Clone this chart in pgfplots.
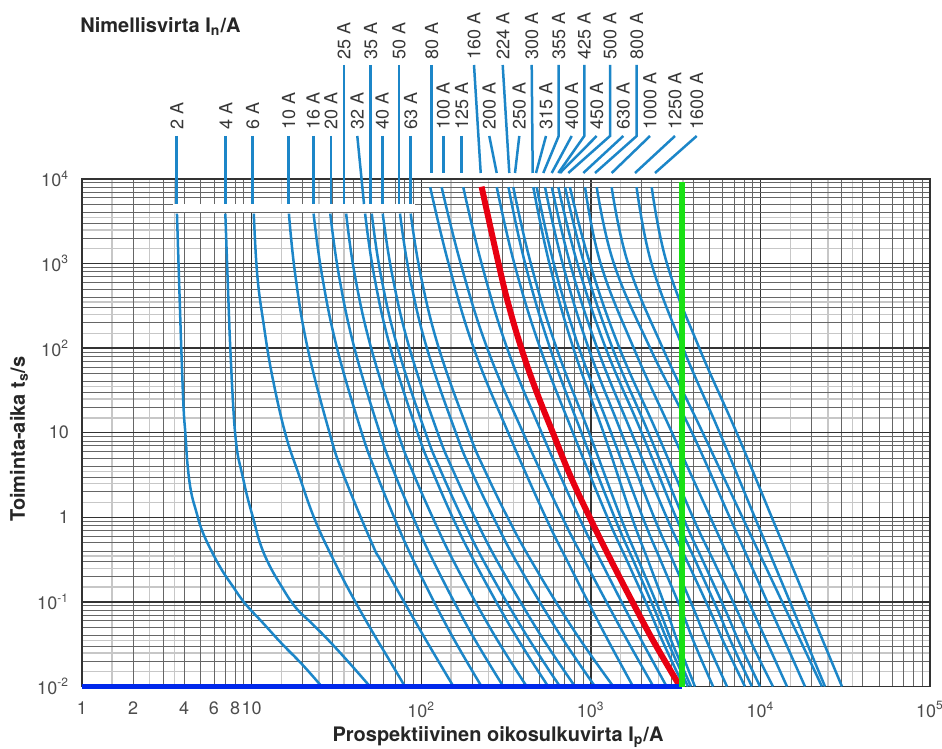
\documentclass[border=0pt]{standalone}
\usepackage{fontspec}
\setmainfont{TeX Gyre Heros}
\usepackage{pgfplots}
\pgfplotsset{compat=1.18}
\definecolor{fuse}{RGB}{28,134,200}
\definecolor{hred}{RGB}{232,0,18}
\definecolor{hgreen}{RGB}{25,225,20}
\definecolor{hblue}{RGB}{0,40,235}
\definecolor{lbl}{RGB}{55,55,55}
\begin{document}
\begin{tikzpicture}
\useasboundingbox (-41pt,-31.25pt) rectangle (430pt,343.25pt);
% light extra grid lines
\begin{axis}[at={(0pt,0pt)}, anchor=south west, scale only axis,
  width=424pt, height=253.75pt, xmode=log, ymode=log,
  xmin=1, xmax=100000, ymin=0.01, ymax=10000,
  xtick={1.5,2.5,3.5,15,25,35,150,250,350,1500,2500,3500,15000,25000,35000},
  ytick={0.015,0.025,0.035,0.15,0.25,0.35,1.5,2.5,3.5,15,25,35,150,250,350,1500,2500,3500},
  xticklabels={}, yticklabels={}, ticklabel style={opacity=0}, grid=major,
  major grid style={black!22, line width=0.7pt},
  major tick length=0pt, axis line style={draw=none}]
\addplot[draw=none] coordinates {(1,1)};
\end{axis}
% main axis
\begin{axis}[at={(0pt,0pt)}, anchor=south west, scale only axis,
  width=424pt, height=253.75pt, xmode=log, ymode=log,
  xmin=1, xmax=100000, ymin=0.01, ymax=10000, clip=false,
  xtick={1,10,100,1000,10000,100000},
  xticklabels={1,10,10\textsuperscript{2},10\textsuperscript{3},10\textsuperscript{4},10\textsuperscript{5}},
  extra x ticks={2,4,6,8}, extra x tick labels={2,4,6,8},
  extra x tick style={xmajorgrids=false},
  minor xtick={2,3,4,5,6,7,8,9,20,30,40,50,60,70,80,90,200,300,400,500,600,700,800,900,2000,3000,4000,5000,6000,7000,8000,9000,20000,30000,40000,50000,60000,70000,80000,90000},
  ytick={0.01,0.1,1,10,100,1000,10000},
  yticklabels={10\textsuperscript{-2},10\textsuperscript{-1},1,10,10\textsuperscript{2},10\textsuperscript{3},10\textsuperscript{4}},
  minor ytick={0.02,0.03,0.04,0.05,0.06,0.07,0.08,0.09,0.2,0.3,0.4,0.5,0.6,0.7,0.8,0.9,2,3,4,5,6,7,8,9,20,30,40,50,60,70,80,90,200,300,400,500,600,700,800,900,2000,3000,4000,5000,6000,7000,8000,9000},
  grid=both,
  major grid style={black!80, line width=0.7pt},
  minor grid style={black!60, line width=0.4pt},
  major tick length=0pt, minor tick length=0pt,
  axis line style={black!80, line width=0.8pt},
  ticklabel style={font=\fontsize{9}{10}\selectfont, text=black!70},
  xticklabel style={yshift=-4pt},
  yticklabel style={xshift=-3pt},
  fusec/.style={fuse, line width=1.25pt, smooth, tension=0.7}]
\fill[white] (axis cs:3.44,4018) rectangle (axis cs:91.9,5060);
% 2 A
\addplot[fusec] coordinates {(3.63,3900) (3.75,500) (3.85,100) (3.97,20) (4.07,9.8) (4.2,4) (4.4,2) (4.7,1.2) (5.1,0.70) (5.8,0.40) (6.7,0.236) (7.8,0.15) (9.18,0.095) (11.8,0.055) (15.1,0.032) (20,0.018) (25.9,0.01)};
% 4 A
\addplot[fusec] coordinates {(7.0,3900) (7.33,295) (7.49,99) (7.75,25) (8.0,9.8) (8.35,5) (8.78,3.29) (9.4,1.8) (10.3,0.92) (11.2,0.5) (12.6,0.283) (14.8,0.16) (18.1,0.087) (22.8,0.055) (28.5,0.035) (37.7,0.019) (49.9,0.01)};
% 6 A
\addplot[fusec] coordinates {(10.3,3900) (10.8,731) (11.8,187) (13.2,48) (15.8,9.8) (18.9,3.29) (23.7,0.92) (31.2,0.283) (39.4,0.115) (51,0.046) (64,0.0215) (80.2,0.01)};
% 10 A
\addplot[fusec] coordinates {(16.6,3900) (18.1,731) (21.4,100) (28.8,10) (34.6,3.29) (51.3,0.49) (59.2,0.283) (98.9,0.046) (155,0.01)};
% 16 A
\addplot[fusec] coordinates {(23.2,3900) (26.0,731) (31.9,100) (44.6,10) (53.5,3.6) (70.5,0.92) (92.0,0.283) (146,0.046) (227,0.01)};
% 20 A
\addplot[fusec] coordinates {(29.1,3900) (32.7,731) (40.4,100) (57.0,10) (68.5,3.6) (91.2,0.92) (120,0.283) (193,0.046) (305,0.01)};
% 25 A
\addplot[fusec] coordinates {(36.1,3900) (40.6,731) (50.7,100) (72.8,10) (88.3,3.6) (119,0.92) (158,0.283) (260,0.046) (419,0.01)};
% 32 A
\addplot[fusec] coordinates {(46.7,3900) (52.7,731) (65.9,100) (95.1,10) (116,3.6) (156,0.92) (209,0.283) (346,0.046) (561,0.01)};
% 35 A
\addplot[fusec] coordinates {(51.1,3900) (57.8,731) (72.8,100) (106,10) (130,3.6) (177,0.92) (238,0.283) (401,0.046) (658,0.01)};
% 40 A
\addplot[fusec] coordinates {(59.3,3900) (67.5,731) (85.3,100) (125,10) (154,3.6) (211,0.92) (286,0.283) (486,0.046) (807,0.01)};
% 50 A
\addplot[fusec] coordinates {(75.0,3900) (85.3,731) (108,100) (160,10) (197,3.6) (272,0.92) (370,0.283) (634,0.046) (1059,0.01)};
% 63 A
\addplot[fusec] coordinates {(86.7,3900) (99.3,731) (127,100) (191,10) (237,3.6) (330,0.92) (456,0.283) (796,0.046) (1358,0.01)};
% 80 A
\addplot[fusec] coordinates {(113,8000) (145,1000) (204,100) (326,10) (542,1) (741,0.282) (1023,0.0794) (1300,0.0316) (1774,0.01)};
% 100 A
\addplot[fusec] coordinates {(132,8000) (171,1000) (245,100) (399,10) (679,1) (940,0.282) (1315,0.0794) (1690,0.0316) (2339,0.01)};
% 125 A
\addplot[fusec] coordinates {(177,8000) (227,1000) (321,100) (513,10) (853,1) (1167,0.282) (1611,0.0794) (2046,0.0316) (2800,0.01)};
% 200 A
\addplot[fusec] coordinates {(279,8000) (354,1000) (503,100) (785,10) (1253,1) (1667,0.282) (2218,0.0794) (2698,0.0316) (3540,0.01)};
% 224 A
\addplot[fusec] coordinates {(327,8000) (410,1000) (575,100) (881,10) (1380,1) (1816,0.282) (2388,0.0794) (2884,0.0316) (3741,0.01)};
% 250 A
\addplot[fusec] coordinates {(349,8000) (443,1000) (628,100) (977,10) (1500,1) (1950,0.282) (2541,0.0794) (3041,0.0316) (3899,0.01)};
% 300 A
\addplot[fusec] coordinates {(458,8000) (570,1000) (789,100) (1189,10) (1746,1) (2213,0.282) (2800,0.0794) (3289,0.0316) (4111,0.01)};
% 315 A
\addplot[fusec] coordinates {(480,8000) (605,1000) (853,100) (1318,10) (2023,1) (2630,0.282) (3428,0.0794) (4102,0.0316) (5260,0.01)};
% 355 A
\addplot[fusec] coordinates {(537,8000) (682,1000) (970,100) (1514,10) (2360,1) (3105,0.282) (4074,0.0794) (4909,0.0316) (6353,0.01)};
% 400 A
\addplot[fusec] coordinates {(589,8000) (755,1000) (1091,100) (1738,10) (2800,1) (3758,0.282) (5035,0.0794) (6152,0.0316) (8110,0.01)};
% 425 A
\addplot[fusec] coordinates {(643,8000) (834,1000) (1225,100) (1995,10) (3177,1) (4217,0.282) (5610,0.0794) (6808,0.0316) (8913,0.01)};
% 450 A
\addplot[fusec] coordinates {(705,8000) (914,1000) (1343,100) (2188,10) (3499,1) (4667,0.282) (6223,0.0794) (7586,0.0316) (9954,0.01)};
% 500 A
\addplot[fusec] coordinates {(753,8000) (989,1000) (1476,100) (2455,10) (4000,1) (5395,0.282) (7278,0.0794) (8933,0.0316) (11860,0.01)};
% 630 A
\addplot[fusec] coordinates {(925,8000) (1143,1000) (1791,100) (3013,10) (5070,1) (6745,0.282) (8995,0.0794) (11070,0.0316) (14350,0.01)};
% 800 A
\addplot[fusec] coordinates {(1084,8000) (1368,1000) (2239,100) (3954,10) (6592,1) (8730,0.282) (11560,0.0794) (14190,0.0316) (18320,0.01)};
% 1000 A
\addplot[fusec] coordinates {(1327,8000) (1660,1000) (2655,100) (4571,10) (7834,1) (10540,0.282) (14190,0.0794) (17620,0.0316) (23070,0.01)};
% 1250 A
\addplot[fusec] coordinates {(1862,8000) (2280,1000) (3499,100) (5754,10) (9268,1) (12050,0.282) (15670,0.0794) (18920,0.0316) (24040,0.01)};
% 1600 A
\addplot[fusec] coordinates {(2286,8000) (2812,1000) (4365,100) (7244,10) (11670,1) (15170,0.282) (19720,0.0794) (23820,0.0316) (30270,0.01)};
% 160 A (highlighted)
\addplot[hred, line width=3pt, smooth, tension=0.7] coordinates {(227,8110) (287,960) (329,314) (390,99) (475,31.8) (600,9.8) (760,3.05) (1005,0.92) (1346,0.283) (1872,0.079) (2388,0.032) (3357,0.01)};
% horizontal 0.01 s line
\addplot[hblue, line width=2.6pt] coordinates {(1,0.01) (3450,0.01)};
% vertical current line
\addplot[hgreen, line width=2.6pt] coordinates {(3450,0.0098) (3450,9300)};
\end{axis}
% annotations in pixel-like coordinates
\begin{scope}[shift={(-41pt,343.25pt)}, x=0.5pt, y=-0.5pt]
\begin{scope}[fuse, line width=1.25pt]
\draw (176.7,136)--(176.7,204);
\draw (225.7,136)--(225.7,204);
\draw (252.7,136)--(252.7,204);
\draw (288.7,136)--(288.7,204);
\draw (313.3,136)--(313.3,204);
\draw (331,136)--(331,204);
\draw (357.3,136)--(364,204);
\draw (382.3,136)--(382.3,204);
\draw (410.7,136)--(410.7,204);
\draw (443.3,136)--(443.3,173);
\draw (461.7,136)--(461.7,173);
\draw (489.3,136)--(496.7,173);
\draw (519.3,136)--(515,173);
\draw (546,136)--(536,173);
\draw (571.7,136)--(551.7,173);
\draw (596.7,136)--(560,173);
\draw (623.3,136)--(583.3,173);
\draw (650,136)--(611.7,173);
\draw (675,136)--(635,173);
\draw (696.7,136)--(655,173);
\draw (344,65)--(344,204);
\draw (370.7,65)--(370.7,204);
\draw (399,65)--(399,204);
\draw (431.7,65)--(431.7,173);
\draw (474,65)--(480.7,173);
\draw (502.7,65)--(509.3,173);
\draw (531.7,65)--(532.7,173);
\draw (558.7,65)--(558.7,136)--(543.3,173);
\draw (584.3,65)--(584.3,136)--(558.3,173);
\draw (610,65)--(610,136)--(568.3,173);
\draw (636.7,65)--(636.7,136)--(595,173);
\end{scope}
\begin{scope}[every node/.style={rotate=90, anchor=west, inner sep=0pt, text=lbl, font=\fontsize{9}{10}\selectfont}]
\node at (176.7,130) {2 A};
\node at (225.7,130) {4 A};
\node at (252.7,130) {6 A};
\node at (288.7,130) {10 A};
\node at (313.3,130) {16 A};
\node at (331,130) {20 A};
\node at (357.3,130) {32 A};
\node at (382.3,130) {40 A};
\node at (410.7,130) {63 A};
\node at (443.3,130) {100 A};
\node at (461.7,130) {125 A};
\node at (489.3,130) {200 A};
\node at (519.3,130) {250 A};
\node at (546,130) {315 A};
\node at (571.7,130) {400 A};
\node at (596.7,130) {450 A};
\node at (623.3,130) {630 A};
\node at (650,130) {1000 A};
\node at (675,130) {1250 A};
\node at (696.7,130) {1600 A};
\node at (344,60) {25 A};
\node at (370.7,60) {35 A};
\node at (399,60) {50 A};
\node at (431.7,60) {80 A};
\node at (474,60) {160 A};
\node at (502.7,60) {224 A};
\node at (531.7,60) {300 A};
\node at (558.7,60) {355 A};
\node at (584.3,60) {425 A};
\node at (610,60) {500 A};
\node at (636.7,60) {800 A};
\end{scope}
\node[anchor=base west, inner sep=0pt, font=\bfseries\fontsize{10}{12}\selectfont, text=black!85] at (80,33) {Nimellisvirta I\textsubscript{n}/A};
\node[anchor=base, inner sep=0pt, font=\bfseries\fontsize{10}{12}\selectfont, text=black!85] at (498,741) {Prospektiivinen oikosulkuvirta I\textsubscript{p}/A};
\node[rotate=90, anchor=base, inner sep=0pt, font=\bfseries\fontsize{10}{12}\selectfont, text=black!85] at (25,439) {Toiminta-aika t\textsubscript{s}/s};
\end{scope}
\end{tikzpicture}
\end{document}
